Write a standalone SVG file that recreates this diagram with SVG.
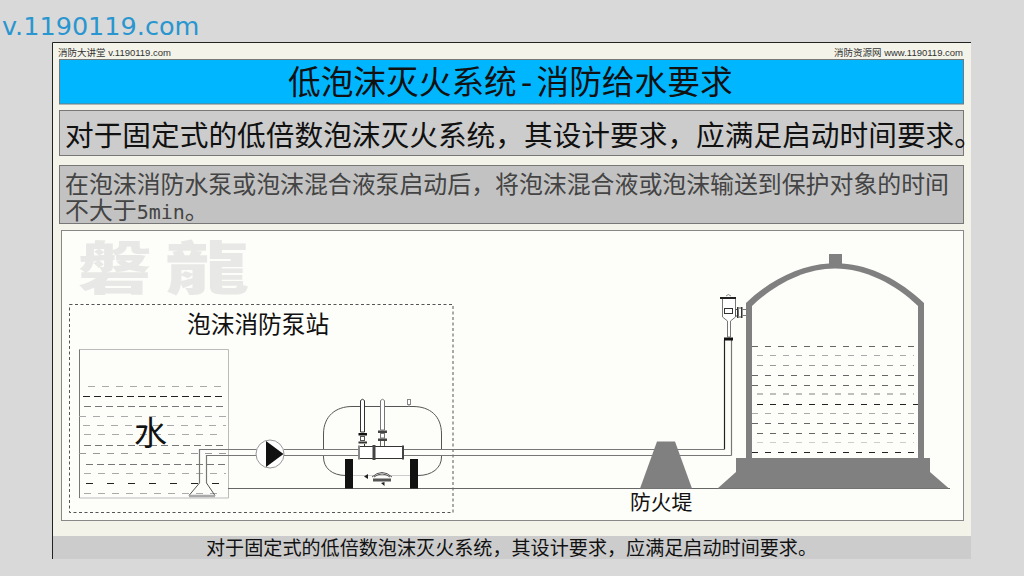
<svg xmlns="http://www.w3.org/2000/svg" width="1024" height="576" viewBox="0 0 1024 576">
<style>
text{font-family:"Noto Sans CJK SC","Noto Sans",sans-serif;fill:#111}
.bar{stroke:#777;stroke-width:1}
.small{font-size:9.5px;fill:#333;font-family:"Liberation Sans","Noto Sans CJK SC",sans-serif}
.pipe{fill:none;stroke:#777;stroke-width:1.2}
.dk{fill:none;stroke:#222;stroke-width:1.2}
.gray{fill:#808080}
.blk{fill:#111}
.mark{font-family:"Noto Sans CJK TC",sans-serif;font-weight:900;fill:#e8e8e6;font-size:68px}
.d1{fill:none;stroke:#222;stroke-width:1;stroke-dasharray:6 7}
.d2{fill:none;stroke:#666;stroke-width:1;stroke-dasharray:6 7}
.d3{fill:none;stroke:#aaa;stroke-width:1;stroke-dasharray:6 7}
.d4{fill:none;stroke:#ccc;stroke-width:1;stroke-dasharray:6 7}
.t1{fill:none;stroke:#222;stroke-width:1;stroke-dasharray:7 4}
.t2{fill:none;stroke:#777;stroke-width:1;stroke-dasharray:7 4}
.t3{fill:none;stroke:#aaa;stroke-width:1;stroke-dasharray:7 7}
</style>
<rect width="1024" height="576" fill="#d9d9d9"/>
<text x="2" y="35" font-size="25.500" style="font-family:'DejaVu Sans',sans-serif;fill:#2a96d0">v.1190119.com</text>
<g id="slide">
<rect x="53" y="43" width="918" height="516" fill="#f3f3ea"/>
<path d="M52.500 559V42.500H971" fill="none" stroke="#222" stroke-width="1"/>
<rect x="53" y="536" width="918" height="23" fill="#cccccc"/>
<text class="small" x="58" y="56">消防大讲堂 v.1190119.com</text>
<text class="small" x="963" y="56" text-anchor="end">消防资源网 www.1190119.com</text>
</g>
<g id="title">
<rect class="bar" x="59.500" y="59.500" width="904" height="44.500" fill="#00b6ff"/>
<text x="288" y="94" font-size="32.700">低泡沫灭火系统<tspan style="font-family:'DejaVu Sans Mono',monospace">-</tspan>消防给水要求</text>
</g>
<g id="lead">
<rect class="bar" x="59.500" y="110.500" width="904" height="45" fill="#cccccc"/>
<text x="65" y="146" font-size="28.700">对于固定式的低倍数泡沫灭火系统&#xFF0C;其设计要求&#xFF0C;应满足启动时间要求。</text>
</g>
<g id="detail">
<rect class="bar" x="59.500" y="165.500" width="904" height="58" fill="#c2c2c2"/>
<text x="65" y="193" font-size="23.900" style="fill:#444">在泡沫消防水泵或泡沫混合液泵启动后&#xFF0C;将泡沫混合液或泡沫输送到保护对象的时间</text>
<text x="65" y="219" font-size="23.900" style="fill:#444">不大于<tspan font-size="20" style="font-family:'DejaVu Sans Mono',monospace">5min</tspan>。</text>
</g>
<g id="panel">
<rect x="61.500" y="230.500" width="902" height="290" fill="#fdfdfa" stroke="#888" stroke-width="1"/>
<text class="mark" transform="translate(78 289) scale(1.08 0.84)">磐</text>
<text class="mark" transform="translate(165 289) scale(1.24 0.84)">龍</text>
</g>
<g id="pump-station">
<rect x="69.500" y="304.500" width="383.500" height="208" fill="none" stroke="#555" stroke-width="1" stroke-dasharray="3 2.500"/>
<text x="187" y="333" font-size="23.700">泡沫消防泵站</text>
</g>
<g id="water-tank">
<path d="M79.500 349.500H228.500V498H79.500" fill="none" stroke="#bbb" stroke-width="1"/>
<path d="M79.500 349.500V498" fill="none" stroke="#777" stroke-width="1"/>
<path class="t3" d="M88 386.500H228"/>
<path class="t1" d="M83 396.500H224"/>
<path class="t2" d="M84 406.500H226"/>
<path class="t3" d="M79 416.500H228"/>
<path class="t3" d="M83 425.500H226"/>
<path class="t3" d="M84 434.500H224"/>
<path class="t2" d="M84 445.500H226"/>
<path class="t3" d="M79 453.500H228" style="stroke:#999"/>
<path class="t2" d="M86 464.500H228"/>
<path class="t3" d="M84 473.500H226"/>
<path class="t1" d="M86 483.500H224" style="stroke-dasharray:7 14"/>
<path class="t3" d="M84 493.500H224"/>
<text x="134" y="445" font-size="33">水</text>
</g>
<g id="connectors">
<path class="pipe" d="M199.500 483V449.500H257M206.500 483V455.500H257"/>
<path d="M189 495.500L199.500 483M215 495.500L206.500 483" fill="none" stroke="#555" stroke-width="1"/>
<path d="M189 496H215" fill="none" stroke="#aaa" stroke-width="2.500"/>
<path class="pipe" d="M284 449.500H358M284 455.500H358M403 449.500H724M403 455.500H731.500"/>
<path class="dk" d="M724.500 449.500V340"/>
<path class="pipe" d="M731.500 455.500V340"/>
<path d="M228 488.500H950" fill="none" stroke="#666" stroke-width="1"/>
</g>
<g id="pump">
<circle cx="270" cy="454" r="14" fill="#fff" stroke="#999" stroke-width="1"/>
<path class="blk" d="M266 441L283.500 454L266 467Z"/>
</g>
<g id="foam-vessel">
<path d="M323.500 449V434C323.500 416 336 406.500 352 406.500H413C430 406.500 441.500 416 441.500 434V449" fill="none" stroke="#555" stroke-width="1"/>
<path d="M323.500 456V457C323.500 468 332 475.500 346 475.500M418 475.500C432 475.500 441.500 468 441.500 457V456" fill="none" stroke="#555" stroke-width="1"/>
<path d="M353 475.500H410" fill="none" stroke="#ccc" stroke-width="1"/>
<rect class="blk" x="345" y="459" width="8" height="29.500"/>
<rect class="blk" x="410" y="459" width="8" height="29.500"/>
<rect x="358.500" y="446.500" width="45" height="12" fill="#fff" stroke="#333" stroke-width="1"/>
<rect x="358" y="445.500" width="2" height="14" fill="#888"/>
<rect x="372.500" y="445" width="3" height="15" fill="#444"/>
<rect x="402" y="445.500" width="2" height="14" fill="#444"/>
<path d="M360.500 400.500Q362.500 398 364.500 400.500V432H360.500Z" fill="#fff" stroke="#333" stroke-width="1"/>
<rect class="blk" x="358.500" y="433" width="8.500" height="2.500"/>
<rect x="360.500" y="436.500" width="4" height="4" fill="#fff" stroke="#555" stroke-width="1"/>
<rect x="358.500" y="441.500" width="8.500" height="2" fill="#333"/>
<path d="M364.500 444V446" stroke="#333"/>
<path d="M380.500 400.500Q382.500 398 384.500 400.500V430H380.500Z" fill="#fff" stroke="#777" stroke-width="1"/>
<rect x="378" y="430.500" width="9" height="2.500" fill="#444"/>
<rect x="380.500" y="433.500" width="4" height="4.500" fill="#fff" stroke="#777" stroke-width="1"/>
<rect x="378" y="438.500" width="9" height="2.500" fill="#444"/>
<path d="M380.500 441V446M384.500 441V446" stroke="#666"/>
<rect x="407.500" y="399.500" width="3" height="5" fill="#fff" stroke="#888" stroke-width="1"/>
<path d="M409 405V407" stroke="#888"/>
<path d="M372 477Q382 468 392 477M374 477Q382 471 390 477" fill="none" stroke="#555" stroke-width="1"/>
<rect x="373" y="478.500" width="18" height="3" fill="#555"/>
<path d="M364 476.500L368 474V479ZM381 483L384.500 482V486Z" fill="#222"/>
</g>
<g id="dike">
<path class="gray" d="M657 441.500H675L692 488.500H640Z"/>
<text x="630" y="510" font-size="20.800">防火堤</text>
</g>
<g id="proportioner">
<path d="M722.500 298V317L727.500 321V337H730.500V321L735.500 317V298Z" fill="#fff" stroke="#777" stroke-width="1"/>
<rect x="720" y="297" width="16" height="2" fill="#222"/>
<path d="M726 296Q728 293 731 296" fill="none" stroke="#888"/>
<rect x="724.500" y="308.500" width="8" height="5" fill="#fff" stroke="#333" stroke-width="1"/>
<rect x="724" y="337.500" width="9" height="3" class="blk"/>
<path d="M735.500 309.500H738V316H735.500Z" fill="#fff" stroke="#555" stroke-width="1"/>
<rect x="737" y="307" width="1.500" height="11" fill="#333"/>
<rect x="741" y="307" width="1.500" height="11" fill="#333"/>
<path d="M738.500 308H741M738.500 317H741" stroke="#555"/>
<path d="M742.500 309.500H746M742.500 315.500H746" stroke="#777"/>
<path d="M752 307Q755.500 308 756.500 314" fill="none" stroke="#aaa" stroke-width="2"/>
<ellipse cx="756.800" cy="315" rx="1" ry="2.200" fill="#fff" stroke="#888" stroke-width="0.800"/>
</g>
<g id="storage-tank">
<path class="gray" d="M829 254H842V263.500C870 265 900 280 924 303V458H930V472L949 488.500H717.500L736 472V458H746V303C770 280 800 265 829 263.500Z"/>
<path d="M752 306C775 284 805 268.500 835 268.500C865 268.500 895 284 918 306V458H752Z" fill="#fdfdfa"/>
<path class="d2" d="M752 346.500H918"/>
<path class="d3" d="M757 355.500H914"/>
<path class="d3" d="M757 365.500H914" style="stroke:#999"/>
<path class="d2" d="M752 375.500H918"/>
<path class="d2" d="M752 385.500H918"/>
<path class="d3" d="M757 394H914" style="stroke-width:1.500"/>
<path class="d1" d="M757 404.500H918"/>
<path class="d3" d="M752 413.500H918"/>
<path class="d2" d="M752 423.500H918"/>
<path class="d2" d="M757 433.500H914"/>
<path class="d4" d="M757 442.500H914"/>
<path class="d1" d="M752 452.500H918"/>
</g>
<g id="caption">
<text x="206" y="555" font-size="19.100">对于固定式的低倍数泡沫灭火系统&#xFF0C;其设计要求&#xFF0C;应满足启动时间要求。</text>
</g>
</svg>
